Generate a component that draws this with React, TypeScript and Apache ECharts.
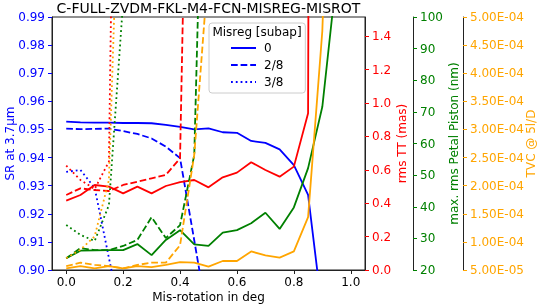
import React, { useEffect, useRef } from 'react';
import * as echarts from 'echarts';

// Mis-rotation values (deg)
const xValues = [0, 0.05, 0.1, 0.15, 0.2, 0.25, 0.3, 0.35, 0.4, 0.45, 0.5, 0.55, 0.6, 0.65, 0.7, 0.75, 0.8, 0.85, 0.9, 0.95, 1.0];

// Misreg labels
const misregLabels = ['0', '2/8', '3/8'];

// SR at 3.7um
const sr0 = [0.9528, 0.9525, 0.9524, 0.9524, 0.9523, 0.9523, 0.9522, 0.9516, 0.9509, 0.95, 0.9504, 0.949, 0.9488, 0.9459, 0.9452, 0.9429, 0.9373, 0.9267, 0.885];
const sr2 = [0.9503, 0.9501, 0.9502, 0.9503, 0.9494, 0.9484, 0.9468, 0.9439, 0.9398, 0.9105, 0.881];
const sr3 = [0.9349, 0.9356, 0.9292, 0.9043, 0.88];

// rms TT (mas)
const tt0 = [0.415, 0.449, 0.509, 0.499, 0.459, 0.499, 0.459, 0.503, 0.526, 0.539, 0.495, 0.555, 0.583, 0.645, 0.599, 0.559, 0.619, 0.938, 30];
const tt2 = [0.449, 0.489, 0.479, 0.473, 0.509, 0.529, 0.549, 0.569, 0.669, 5];
const tt3 = [0.625, 0.539, 0.485, 0.649, 6.7];

// max. rms Petal Piston (nm)
const pp0 = [23.7, 26.1, 26.2, 26.3, 26.3, 28.2, 24.7, 29.5, 32.6, 28.1, 27.6, 31.8, 32.6, 34.8, 38.1, 33.0, 39.8, 52.2, 71.6, 113];
const pp2 = [23.7, 26.9, 26.3, 26.3, 27.6, 29.5, 36.7, 30.1, 34.2, 56.4, 230];
const pp3 = [34.2, 31.1, 29.2, 40.5, 105];

// TVC @ 5l/D
const tvc0 = [5.3e-5, 5.7e-5, 5.3e-5, 5.7e-5, 5.3e-5, 5.7e-5, 5.5e-5, 5.9e-5, 6.4e-5, 6.3e-5, 5.6e-5, 6.6e-5, 6.6e-5, 8.3e-5, 7.6e-5, 7.2e-5, 8.3e-5, 1.44e-4, 4.75e-4, 1.2e-3];
const tvc2 = [5.7e-5, 6.3e-5, 5.9e-5, 5.7e-5, 5.3e-5, 5.9e-5, 6.3e-5, 6.3e-5, 9.4e-5, 2.55e-4, 5.9e-4];
const tvc3 = [7.1e-5, 8.6e-5, 1.1e-4, 2.1e-4, 1.0e-3];

// Tick labels
const xTicks = [0, 0.2, 0.4, 0.6, 0.8, 1.0];
const srTicks = [0.9, 0.91, 0.92, 0.93, 0.94, 0.95, 0.96, 0.97, 0.98, 0.99];
const ttTicks = [0, 0.2, 0.4, 0.6, 0.8, 1.0, 1.2, 1.4];
const pistonTicks = [20, 30, 40, 50, 60, 70, 80, 90, 100];
const tvcTicks = [5e-5, 1e-4, 1.5e-4, 2e-4, 2.5e-4, 3e-4, 3.5e-4, 4e-4, 4.5e-4, 5e-4];

const BLUE = '#0000ff';
const RED = '#ff0000';
const GREEN = '#008000';
const ORANGE = '#ffa500';
const FONT = 'DejaVu Sans';
const LW = 1.8;
const DASHED = [6.7, 2.9];
const DOTTED = [1.8, 3];

function pairs(vals: number[]) {
  return vals.map((v, i) => [xValues[i], v]);
}

function fmtExp(v: number) {
  const e = Math.floor(Math.log10(v) + 1e-9);
  const m = v / Math.pow(10, e);
  const ae = Math.abs(e);
  return m.toFixed(2) + 'E' + (e < 0 ? '-' : '+') + (ae < 10 ? '0' : '') + ae;
}

function mkSeries(name: string, vals: number[], yIdx: number, color: string, type: any) {
  return {
    type: 'line',
    name,
    yAxisIndex: yIdx,
    data: pairs(vals),
    symbol: 'none',
    showSymbol: false,
    clip: true,
    silent: true,
    lineStyle: { color, width: LW, type },
    itemStyle: { color },
    emphasis: { disabled: true },
  };
}

function mkYAxis(opts: any) {
  const { color, min, max, ticks, fmt, name, nameGap, position, offset } = opts;
  return {
    type: 'value',
    position,
    offset,
    min,
    max,
    axisLine: { show: true, onZero: false, lineStyle: { color: '#222', width: 1 } },
    axisTick: { show: true, length: 4, inside: false, lineStyle: { color }, customValues: ticks },
    axisLabel: { color, fontSize: 12, fontFamily: FONT, margin: 7, formatter: fmt, customValues: ticks },
    splitLine: { show: false },
    name,
    nameLocation: 'middle',
    nameGap,
    nameRotate: 90,
    nameMoveOverlap: false,
    nameTextStyle: { color, fontSize: 12, fontFamily: FONT },
  };
}

export default function App() {
  const ref = useRef<HTMLDivElement>(null);
  useEffect(() => {
    if (!ref.current) return;
    const chart = echarts.init(ref.current, null, { renderer: 'svg' });
    const option: any = {
      animation: false,
      textStyle: { fontFamily: FONT },
      grid: {
        left: 52, right: 175, top: 17, bottom: 37,
        containLabel: false, outerBoundsMode: 'none',
        show: true, borderColor: '#222', borderWidth: 1,
      },
      graphic: [
        {
          type: 'text',
          x: 208.5,
          y: 8,
          z: 100,
          style: { text: 'C-FULL-ZVDM-FKL-M4-FCN-MISREG-MISROT', fontSize: 14, fontFamily: FONT, fill: '#000', textAlign: 'center', textVerticalAlign: 'middle' },
        },
        {
          type: 'text',
          x: 257,
          y: 32,
          z: 100,
          style: { text: 'Misreg [subap]', fontSize: 12, fontFamily: FONT, fill: '#000', textAlign: 'center', textVerticalAlign: 'middle' },
        },
      ],
      legend: {
        data: misregLabels,
        orient: 'vertical',
        left: 209,
        top: 23,
        itemWidth: 25,
        itemHeight: 12,
        itemGap: 5,
        padding: [19, 22, 5, 21],
        borderColor: '#cccccc',
        borderWidth: 1,
        borderRadius: 3,
        backgroundColor: 'rgba(255,255,255,0.85)',
        itemStyle: { color: 'rgba(0,0,0,0)', borderWidth: 0, opacity: 0 },
        textStyle: { color: '#000', fontSize: 12, fontFamily: FONT, padding: [0, 0, 0, 3] },
        selectedMode: false,
      },
      xAxis: {
        type: 'value',
        min: -0.05,
        max: 1.05,
        axisLine: { show: true, onZero: false, lineStyle: { color: '#222' } },
        axisTick: { show: true, length: 4, lineStyle: { color: '#222' }, customValues: xTicks },
        axisLabel: { color: '#000', fontSize: 12, fontFamily: FONT, margin: 6, formatter: (v: number) => v.toFixed(1), customValues: xTicks },
        splitLine: { show: false },
        name: 'Mis-rotation in deg',
        nameLocation: 'middle',
        nameGap: 21,
        nameMoveOverlap: false,
        nameTextStyle: { color: '#000', fontSize: 12, fontFamily: FONT },
      },
      yAxis: [
        mkYAxis({ color: BLUE, min: 0.9, max: 0.99, ticks: srTicks, fmt: (v: number) => v.toFixed(2), name: 'SR at 3.7μm', nameGap: 36, position: 'left', offset: 0 }),
        mkYAxis({ color: RED, min: 0, max: 1.515, ticks: ttTicks, fmt: (v: number) => v.toFixed(1), name: 'rms TT (mas)', nameGap: 31, position: 'right', offset: 0 }),
        mkYAxis({ color: GREEN, min: 20, max: 100, ticks: pistonTicks, fmt: (v: number) => String(Math.round(v)), name: 'max. rms Petal Piston (nm)', nameGap: 35, position: 'right', offset: 48 }),
        mkYAxis({ color: ORANGE, min: 5e-5, max: 5e-4, ticks: tvcTicks, fmt: fmtExp, name: 'TVC @ 5l/D', nameGap: 62, position: 'right', offset: 98 }),
      ],
      series: [
        mkSeries(misregLabels[0], sr0, 0, BLUE, 'solid'),
        mkSeries(misregLabels[1], sr2, 0, BLUE, DASHED),
        mkSeries(misregLabels[2], sr3, 0, BLUE, DOTTED),
        mkSeries('TT 0', tt0, 1, RED, 'solid'),
        mkSeries('TT 2/8', tt2, 1, RED, DASHED),
        mkSeries('TT 3/8', tt3, 1, RED, DOTTED),
        mkSeries('PP 0', pp0, 2, GREEN, 'solid'),
        mkSeries('PP 2/8', pp2, 2, GREEN, DASHED),
        mkSeries('PP 3/8', pp3, 2, GREEN, DOTTED),
        mkSeries('TVC 0', tvc0, 3, ORANGE, 'solid'),
        mkSeries('TVC 2/8', tvc2, 3, ORANGE, DASHED),
        mkSeries('TVC 3/8', tvc3, 3, ORANGE, DOTTED),
      ],
    };
    chart.setOption(option);
    return () => chart.dispose();
  }, []);
  return <div ref={ref} style={{ position: 'fixed', left: 0, top: 0, width: 540, height: 307 }} />;
}
